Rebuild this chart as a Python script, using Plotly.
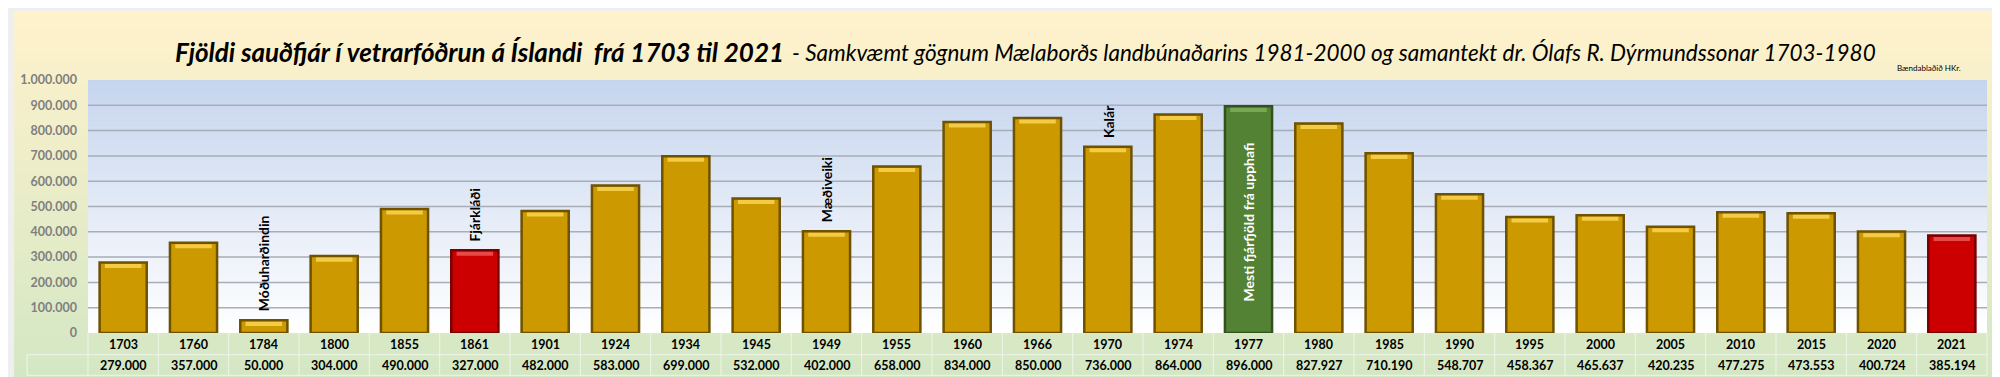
import plotly.graph_objects as go

years = ["1703", "1760", "1784", "1800", "1855", "1861", "1901", "1924", "1934", "1945",
         "1949", "1955", "1960", "1966", "1970", "1974", "1977", "1980", "1985", "1990",
         "1995", "2000", "2005", "2010", "2015", "2020", "2021"]
sheep = [279000, 357000, 50000, 304000, 490000, 327000, 482000, 583000, 699000, 532000,
         402000, 658000, 834000, 850000, 736000, 864000, 896000, 827927, 710190, 548707,
         458367, 465637, 420235, 477275, 473553, 400724, 385194]
kind = ["n", "n", "n", "n", "n", "r", "n", "n", "n", "n",
        "n", "n", "n", "n", "n", "n", "g", "n", "n", "n",
        "n", "n", "n", "n", "n", "n", "r"]
events = {"1784": "Móðuharðindin", "1861": "Fjárkláði", "1949": "Mæðiveiki", "1970": "Kalár"}
record_year = "1977"
record_text = "Mesti fjárfjöld frá upphafi"
title_text = "Fjöldi sauðfjár í vetrarfóðrun á Íslandi\u00a0\u00a0frá 1703 til 2021"
subtitle_text = "- Samkvæmt gögnum Mælaborðs landbúnaðarins 1981-2000 og samantekt dr. Ólafs R. Dýrmundssonar 1703-1980"
credit_text = "Bændablaðið HKr."
y_ticks = [0, 100000, 200000, 300000, 400000, 500000, 600000, 700000, 800000, 900000, 1000000]

W, H = 2000, 377
L, R, T, B = 77, 21, 72, 52
pw, ph = W - L - R, H - T - B


def px2x(px):
    return (px - L) / pw


def py2y(py):
    return (H - B - py) / ph


def mix(c1, c2, t):
    a = [int(c1[i:i + 2], 16) for i in (1, 3, 5)]
    b = [int(c2[i:i + 2], 16) for i in (1, 3, 5)]
    return "rgb(%d,%d,%d)" % tuple(round(a[k] + (b[k] - a[k]) * t) for k in range(3))


base_col = {"n": "#CC9900", "r": "#CC0000", "g": "#548235"}
edge_col = {"n": "#6E5200", "r": "#780000", "g": "#33511E"}
hi_col = {"n": "#F4CB45", "r": "#E84848", "g": "#78A856"}

idx = list(range(len(years)))

fig = go.Figure()
fig.add_trace(go.Bar(
    x=idx, y=sheep, width=0.67,
    marker=dict(color=[base_col[k] for k in kind],
                line=dict(color=[edge_col[k] for k in kind], width=2.5)),
    hovertext=years, hoverinfo="text+y", showlegend=False))
hi_h = 16000
fig.add_trace(go.Bar(
    x=idx, y=[hi_h] * len(sheep), base=[v - hi_h - 6000 for v in sheep], width=0.52,
    marker=dict(color=[hi_col[k] for k in kind], line=dict(width=0)),
    hoverinfo="skip", showlegend=False))

shapes = []
# outer background gradient (beige -> green)
N = 80
y0p, y1p = 3, 374
for i in range(N):
    a = y0p + (y1p - y0p) * i / N
    b = y0p + (y1p - y0p) * (i + 1) / N + 0.6
    shapes.append(dict(type="rect", xref="paper", yref="paper", layer="below",
                       x0=px2x(3), x1=px2x(1997), y0=py2y(b), y1=py2y(a),
                       line=dict(width=0), fillcolor=mix("#FFF2CC", "#D3E7C4", i / (N - 1))))
# plot area gradient (blue -> white)
N2 = 60
for i in range(N2):
    a = T + ph * i / N2
    b = T + ph * (i + 1) / N2 + 0.6
    shapes.append(dict(type="rect", xref="paper", yref="paper", layer="below",
                       x0=0, x1=1, y0=py2y(min(b, T + ph)), y1=py2y(a),
                       line=dict(width=0), fillcolor=mix("#C6D5EE", "#FFFFFF", i / (N2 - 1))))
# horizontal gridlines (not at the top edge)
for t in y_ticks[1:-1]:
    shapes.append(dict(type="line", xref="paper", yref="y", layer="between",
                       x0=0, x1=1, y0=t, y1=t, line=dict(color="#A8ADB8", width=1.5)))

# data table lines
tl = "#EEF6E8"
row_mid, row_bot = 346.7, 367.3
shapes.append(dict(type="line", xref="paper", yref="paper", x0=px2x(16), x1=1,
                   y0=py2y(row_mid), y1=py2y(row_mid), line=dict(color=tl, width=1)))
shapes.append(dict(type="line", xref="paper", yref="paper", x0=px2x(16), x1=1,
                   y0=py2y(row_bot), y1=py2y(row_bot), line=dict(color=tl, width=1)))
shapes.append(dict(type="line", xref="paper", yref="paper", x0=px2x(16), x1=px2x(16),
                   y0=py2y(row_bot), y1=py2y(row_mid), line=dict(color=tl, width=1)))
for k in range(len(years) + 1):
    xx = k / len(years)
    shapes.append(dict(type="line", xref="paper", yref="paper", x0=xx, x1=xx,
                       y0=py2y(row_bot), y1=0, line=dict(color=tl, width=1)))

ann = []
for i, (yv, v) in enumerate(zip(years, sheep)):
    ann.append(dict(x=i, xref="x", y=py2y(336), yref="paper", text=yv, showarrow=False,
                    font=dict(family="Lato", size=12.5, color="#000000", weight="bold"),
                    yanchor="middle", xanchor="center"))
    ann.append(dict(x=i, xref="x", y=py2y(357.5), yref="paper",
                    text=f"{v:,}".replace(",", "."), showarrow=False,
                    font=dict(family="Lato", size=12.5, color="#000000", weight="bold"),
                    yanchor="middle", xanchor="center"))
    if yv in events:
        ann.append(dict(x=i, xref="x", y=v, yref="y", text=events[yv], showarrow=False,
                        textangle=-90, yanchor="bottom", xanchor="center", yshift=7,
                        font=dict(family="Lato", size=14, color="#000000", weight="bold")))
    if yv == record_year:
        ann.append(dict(x=i, xref="x", y=v * 0.49, yref="y", text=record_text, showarrow=False,
                        textangle=-90, yanchor="middle", xanchor="center",
                        font=dict(family="Lato", size=14, color="#FFFFFF", weight="bold")))

ann.append(dict(x=px2x(162), xref="paper", y=py2y(62), yref="paper", text=f"<b><i>{title_text}</i></b>",
                showarrow=False, xanchor="left", yanchor="bottom",
                font=dict(family="Lato", size=26, color="#000000")))
ann.append(dict(x=px2x(780), xref="paper", y=py2y(60), yref="paper", text=f"<i>{subtitle_text}</i>",
                showarrow=False, xanchor="left", yanchor="bottom",
                font=dict(family="Lato", size=22.5, color="#000000")))
ann.append(dict(x=px2x(1955), xref="paper", y=py2y(60), yref="paper", text=credit_text,
                showarrow=False, xanchor="right", yanchor="middle",
                font=dict(family="Lato", size=8, color="#000000")))

fig.update_layout(
    width=W, height=H,
    margin=dict(l=L, r=R, t=T, b=B, pad=0),
    paper_bgcolor="#EFEFEF",
    plot_bgcolor="rgba(0,0,0,0)",
    barmode="overlay",
    separators=",.",
    shapes=shapes,
    annotations=ann,
    showlegend=False,
    xaxis=dict(range=[-0.5, len(years) - 0.5], showticklabels=False, showgrid=False,
               zeroline=False, showline=False, ticks=""),
    yaxis=dict(range=[0, 1000000], tickvals=y_ticks, tickformat=",d", showgrid=False,
               zeroline=False, showline=False, ticks="", ticklabelstandoff=10,
               tickfont=dict(family="Lato", size=12.5, color="#7F7F7F", weight="bold")),
)

fig.write_html("out.html")
